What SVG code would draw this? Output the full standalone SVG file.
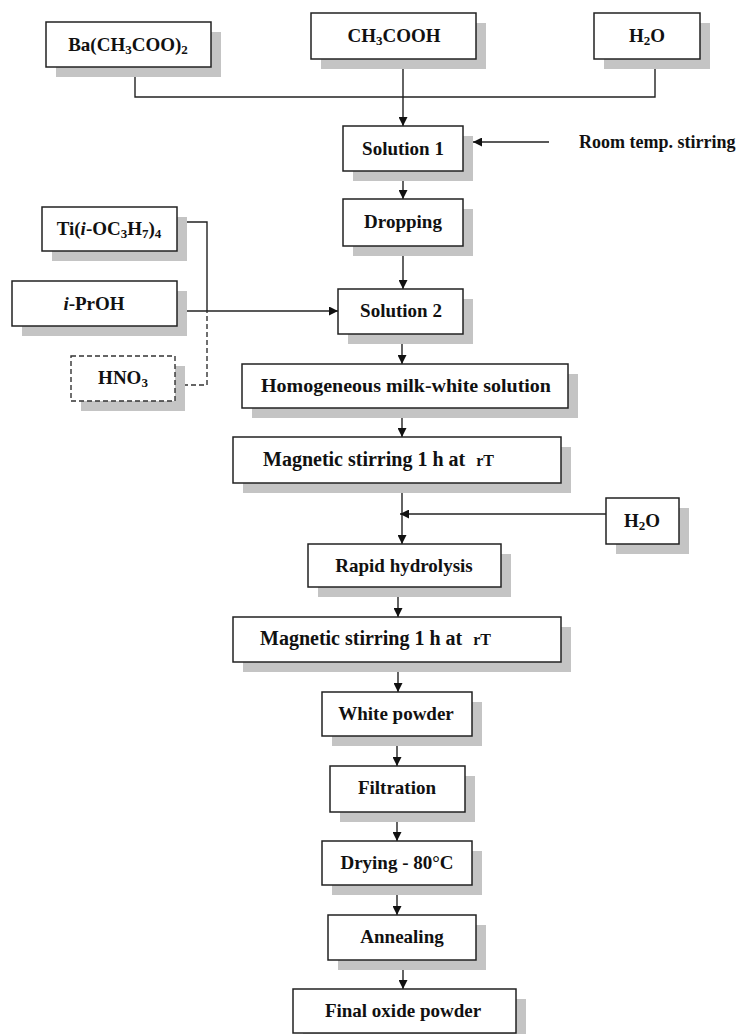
<svg xmlns="http://www.w3.org/2000/svg" width="737" height="1034" viewBox="0 0 737 1034">
<style>
.sh{fill:#c4c4c4;stroke:none}
.bx{fill:#fff;stroke:#222;stroke-width:1.5}
.dbx{fill:#fff;stroke:#333;stroke-width:1.4;stroke-dasharray:5,3}
.t{font-family:"Liberation Serif","Times New Roman",serif;font-weight:bold;font-size:19px;fill:#111;text-anchor:middle}
.sub{font-size:13px}
.ln{fill:none;stroke:#222;stroke-width:1.4}
.dl{fill:none;stroke:#333;stroke-width:1.4;stroke-dasharray:5,3}
</style>
<defs>
<marker id="ah" markerUnits="userSpaceOnUse" markerWidth="9" markerHeight="9" refX="9" refY="4.5" orient="auto">
<path d="M0,0 L9,4.5 L0,9 z" fill="#111"/>
</marker>
</defs>
<rect width="737" height="1034" fill="#fff"/>

<g id="connectors">
<path class="ln" d="M135,67 V97 H655 V59"/>
<path class="ln" d="M403,59 V126" marker-end="url(#ah)"/>
<path class="ln" d="M549,142 H473" marker-end="url(#ah)"/>
<path class="ln" d="M403,171 V199" marker-end="url(#ah)"/>
<path class="ln" d="M403,246 V289" marker-end="url(#ah)"/>
<path class="ln" d="M177,222 H207 V311"/>
<path class="ln" d="M177,311 H338" marker-end="url(#ah)"/>
<path class="dl" d="M175,385 H207 V311"/>
<path class="ln" d="M402,334 V364" marker-end="url(#ah)"/>
<path class="ln" d="M402,408 V437" marker-end="url(#ah)"/>
<path class="ln" d="M402,483 V544" marker-end="url(#ah)"/>
<path class="ln" d="M606,514 H400" marker-end="url(#ah)"/>
<path class="ln" d="M398,587 V617" marker-end="url(#ah)"/>
<path class="ln" d="M398,662 V692" marker-end="url(#ah)"/>
<path class="ln" d="M397,736 V766" marker-end="url(#ah)"/>
<path class="ln" d="M397,812 V841" marker-end="url(#ah)"/>
<path class="ln" d="M397,885 V915" marker-end="url(#ah)"/>
<path class="ln" d="M403,960 V989" marker-end="url(#ah)"/>
</g>

<g id="ba">
<rect class="sh" x="56" y="32" width="165" height="45"/>
<rect class="bx" x="46" y="22" width="165" height="45"/>
<text class="t" x="128" y="51">Ba(CH<tspan class="sub" dy="3">3</tspan><tspan dy="-3">COO)</tspan><tspan class="sub" dy="3">2</tspan></text>
</g>
<g id="ch3cooh">
<rect class="sh" x="321" y="23" width="165" height="46"/>
<rect class="bx" x="311" y="13" width="165" height="46"/>
<text class="t" x="394" y="42">CH<tspan class="sub" dy="3">3</tspan><tspan dy="-3">COOH</tspan></text>
</g>
<g id="h2o_top">
<rect class="sh" x="604" y="23" width="106" height="46"/>
<rect class="bx" x="594" y="13" width="106" height="46"/>
<text class="t" x="647" y="42">H<tspan class="sub" dy="3">2</tspan><tspan dy="-3">O</tspan></text>
</g>
<g id="sol1">
<rect class="sh" x="353" y="136" width="120" height="45"/>
<rect class="bx" x="343" y="126" width="120" height="45"/>
<text class="t" x="403" y="155">Solution 1</text>
</g>
<text class="t" x="579" y="148" style="text-anchor:start;font-size:18px">Room temp. stirring</text>
<g id="dropping">
<rect class="sh" x="353" y="209" width="120" height="47"/>
<rect class="bx" x="343" y="199" width="120" height="47"/>
<text class="t" x="403" y="228">Dropping</text>
</g>
<g id="ti">
<rect class="sh" x="52" y="217" width="135" height="44"/>
<rect class="bx" x="42" y="207" width="135" height="44"/>
<text class="t" x="109" y="235">Ti(<tspan font-style="italic">i</tspan>-OC<tspan class="sub" dy="3">3</tspan><tspan dy="-3">H</tspan><tspan class="sub" dy="3">7</tspan><tspan dy="-3">)</tspan><tspan class="sub" dy="3">4</tspan></text>
</g>
<g id="iproh">
<rect class="sh" x="22" y="291" width="165" height="45"/>
<rect class="bx" x="12" y="281" width="165" height="45"/>
<text class="t" x="94" y="310"><tspan font-style="italic">i</tspan>-PrOH</text>
</g>
<g id="hno3">
<rect class="sh" x="81" y="366" width="104" height="45"/>
<rect class="dbx" x="71" y="356" width="104" height="45"/>
<text class="t" x="123" y="384">HNO<tspan class="sub" dy="3">3</tspan></text>
</g>
<g id="sol2">
<rect class="sh" x="348" y="299" width="125" height="45"/>
<rect class="bx" x="338" y="289" width="125" height="45"/>
<text class="t" x="401" y="317">Solution 2</text>
</g>
<g id="homog">
<rect class="sh" x="252" y="374" width="326" height="44"/>
<rect class="bx" x="242" y="364" width="326" height="44"/>
<text class="t" x="406" y="392" textLength="290" lengthAdjust="spacingAndGlyphs">Homogeneous milk-white solution</text>
</g>
<g id="mag1">
<rect class="sh" x="243" y="447" width="328" height="46"/>
<rect class="bx" x="233" y="437" width="328" height="46"/>
<text class="t" x="263" y="466" style="text-anchor:start;font-size:20px">Magnetic stirring 1 h at <tspan font-size="16" dx="6">rT</tspan></text>
</g>
<g id="h2o_mid">
<rect class="sh" x="616" y="508" width="73" height="46"/>
<rect class="bx" x="606" y="498" width="73" height="46"/>
<text class="t" x="642" y="527">H<tspan class="sub" dy="3">2</tspan><tspan dy="-3">O</tspan></text>
</g>
<g id="rapid">
<rect class="sh" x="318" y="554" width="193" height="43"/>
<rect class="bx" x="308" y="544" width="193" height="43"/>
<text class="t" x="404" y="572">Rapid hydrolysis</text>
</g>
<g id="mag2">
<rect class="sh" x="243" y="627" width="328" height="45"/>
<rect class="bx" x="233" y="617" width="328" height="45"/>
<text class="t" x="260" y="645" style="text-anchor:start;font-size:20px">Magnetic stirring 1 h at <tspan font-size="16" dx="6">rT</tspan></text>
</g>
<g id="white">
<rect class="sh" x="332" y="702" width="150" height="44"/>
<rect class="bx" x="322" y="692" width="150" height="44"/>
<text class="t" x="396" y="720">White powder</text>
</g>
<g id="filtration">
<rect class="sh" x="340" y="776" width="135" height="46"/>
<rect class="bx" x="330" y="766" width="135" height="46"/>
<text class="t" x="397" y="794">Filtration</text>
</g>
<g id="drying">
<rect class="sh" x="332" y="851" width="150" height="44"/>
<rect class="bx" x="322" y="841" width="150" height="44"/>
<text class="t" x="397" y="869">Drying - 80°C</text>
</g>
<g id="annealing">
<rect class="sh" x="338" y="925" width="148" height="45"/>
<rect class="bx" x="328" y="915" width="148" height="45"/>
<text class="t" x="402" y="943">Annealing</text>
</g>
<g id="final">
<rect class="sh" x="303" y="999" width="223" height="45"/>
<rect class="bx" x="293" y="989" width="223" height="44"/>
<text class="t" x="403" y="1017">Final oxide powder</text>
</g>
</svg>
